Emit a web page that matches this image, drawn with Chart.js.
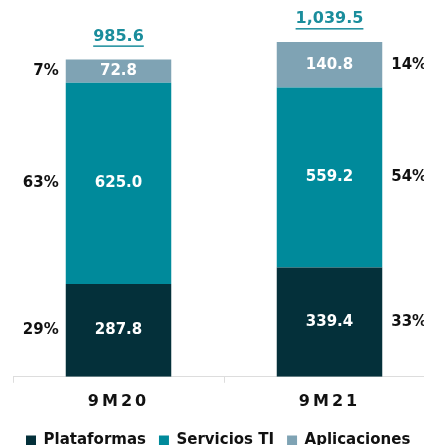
<!DOCTYPE html>
<html>
<head>
<meta charset="utf-8">
<script src="https://cdn.jsdelivr.net/npm/chart.js@4/dist/chart.umd.min.js"></script>
<style>
  html, body { margin: 0; padding: 0; background: #fff; overflow: hidden; }
  #wrap { width: 440px; height: 458px; position: relative; }
</style>
</head>
<body>
<div id="wrap"><canvas id="c"></canvas></div>
<script>
// ─── Data ─────────────────────────────────────────────
const categories   = ['9M20', '9M21'];
const plataformas  = [287.8, 339.4];
const servicios    = [625.0, 559.2];
const aplicaciones = [72.8, 140.8];
const totals       = ['985.6', '1,039.5'];
const pctPlat      = ['29%', '33%'];
const pctServ      = ['63%', '54%'];
const pctApl       = ['7%', '14%'];

const C_DARK  = '#04303a';
const C_TEAL  = '#008a9b';
const C_LIGHT = '#7fa3b4';
const FONT = '"DejaVu Sans", sans-serif';

// ─── Letter spacing for the axis labels only ──────────
const spacingPlugin = {
  id: 'tickSpacing',
  afterInit(chart) {
    const lg = chart.legend;
    if (!lg) return;
    const draw = lg.draw.bind(lg);
    lg.draw = (...a) => {
      const prev = chart.ctx.letterSpacing;
      chart.ctx.letterSpacing = '0px';
      draw(...a);
      chart.ctx.letterSpacing = prev;
    };
  },
  beforeDraw(chart) { chart.ctx.letterSpacing = '3px'; },
  beforeDatasetsDraw(chart) { chart.ctx.letterSpacing = '0px'; },
  afterDraw(chart) { chart.ctx.letterSpacing = '0px'; },
};

// ─── Labels plugin ────────────────────────────────────
const labelsPlugin = {
  id: 'barLabels',
  afterDatasetsDraw(chart) {
    const { ctx } = chart;
    const pcts = [pctPlat, pctServ, pctApl];
    ctx.save();
    ctx.letterSpacing = '0px';
    ctx.textBaseline = 'middle';
    chart.data.datasets.forEach((ds, di) => {
      const meta = chart.getDatasetMeta(di);
      meta.data.forEach((bar, i) => {
        const midY = (bar.y + bar.base) / 2;
        ctx.font = `bold 15px ${FONT}`;
        ctx.fillStyle = '#fff';
        ctx.textAlign = 'center';
        ctx.fillText(ds.data[i].toFixed(1), bar.x, midY);
        // percentages: left of first bar, right of second
        ctx.fillStyle = '#111';
        const half = bar.width / 2;
        if (i === 0) {
          ctx.textAlign = 'right';
          ctx.fillText(pcts[di][i], bar.x - half - 7, midY);
        } else {
          ctx.textAlign = 'left';
          ctx.fillText(pcts[di][i], bar.x + half + 9, midY);
        }
      });
    });
    // totals above stacks
    const top = chart.getDatasetMeta(chart.data.datasets.length - 1);
    top.data.forEach((bar, i) => {
      ctx.font = `bold 16px ${FONT}`;
      ctx.fillStyle = '#1a8d9c';
      ctx.textAlign = 'center';
      const y = bar.y - 23;
      ctx.fillText(totals[i], bar.x, y);
      const w = ctx.measureText(totals[i]).width;
      ctx.fillRect(bar.x - w / 2, y + 9, w, 1.5);
    });
    ctx.restore();
  }
};

const mkDs = (label, data, color) => ({
  label, data,
  backgroundColor: color,
  borderWidth: 0,
  barPercentage: 0.5,
  categoryPercentage: 1.0,
});

new Chart(document.getElementById('c'), {
  type: 'bar',
  data: {
    labels: categories,
    datasets: [
      mkDs('Plataformas', plataformas, C_DARK),
      mkDs('Servicios TI', servicios, C_TEAL),
      mkDs('Aplicaciones', aplicaciones, C_LIGHT),
    ],
  },
  options: {
    responsive: true,
    maintainAspectRatio: false,
    animation: false,
    layout: { padding: { left: 13, right: 5, top: 0, bottom: 0 } },
    plugins: {
      legend: {
        position: 'bottom',
        align: 'start',
        labels: {
          color: '#111',
          boxWidth: 10,
          boxHeight: 10,
          padding: 13,
          font: { size: 15, weight: 'bold', family: FONT },
        },
      },
      tooltip: { enabled: false },
    },
    scales: {
      x: {
        stacked: true,
        grid: { offset: true, drawOnChartArea: false, color: '#dddddd', tickLength: 6 },
        border: { color: '#dddddd' },
        ticks: { color: '#111', padding: 9, font: { size: 16, weight: 'bold', family: FONT } },
      },
      y: {
        stacked: true,
        display: false,
        min: 0,
        max: 1170,
      },
    },
  },
  plugins: [spacingPlugin, labelsPlugin],
});
</script>
</body>
</html>
